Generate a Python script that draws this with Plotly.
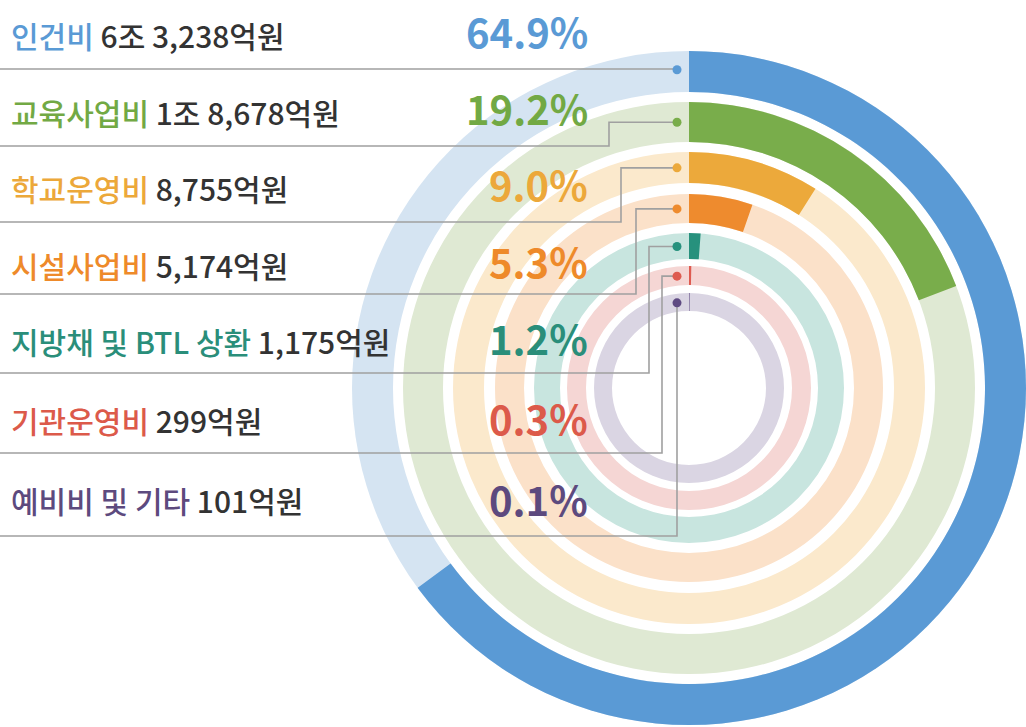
import math
import plotly.graph_objects as go

# ---------------- data ----------------
categories = ["인건비", "교육사업비", "학교운영비", "시설사업비",
              "지방채 및 BTL 상환", "기관운영비", "예비비 및 기타"]
amounts = ["6조 3,238억원", "1조 8,678억원", "8,755억원", "5,174억원",
           "1,175억원", "299억원", "101억원"]
shares = [64.9, 19.2, 9.0, 5.3, 1.2, 0.3, 0.1]

# ---------------- styles / layout ----------------
BAR_COLORS = ["#5a9ad5", "#79ad4b", "#eca93b", "#ee8b2e", "#27917d", "#de5b50", "#5e4a82"]
TRACK_COLORS = ["#d5e4f2", "#dfe9d3", "#fbe9cc", "#fbe1c9", "#c8e5df", "#f5d6d4", "#dad5e3"]
TEXT_COLORS = ["#5a9ad5", "#72a944", "#eca83a", "#ee8a2a", "#2a8e7a", "#dc5a4a", "#5d4a7e"]

W, H = 1026, 727
CX, CY = 689, 388          # ring centre in px (from top-left)
R_POLAR = 337              # radius of polar area in px
RING_INNER = [296, 246, 205, 165, 129, 103, 77]
RING_OUTER = [341, 286, 236, 194, 155, 122, 95]
LINE_Y = [69, 146, 222, 294, 373, 453, 536]
ELBOW_X = [677, 609, 621, 636, 649, 662, 677]
DOT_DX = 12
LABEL_Y = [35, 112, 188, 265, 341, 420, 500]
PCT_Y = [31, 108, 184, 261, 338, 418, 499]


def px(x):
    return x / W


def py(y):
    return 1 - y / H


fig = go.Figure()

# background tracks
for i in range(len(shares)):
    fig.add_trace(go.Barpolar(
        r=[RING_OUTER[i] - RING_INNER[i]], base=[RING_INNER[i]],
        theta=[180], width=[360],
        marker=dict(color=TRACK_COLORS[i], line=dict(width=0)),
        hoverinfo="skip", showlegend=False))

# value bars (percent -> degrees)
for i, s in enumerate(shares):
    sweep = s * 360 / 100
    fig.add_trace(go.Barpolar(
        r=[RING_OUTER[i] - RING_INNER[i]], base=[RING_INNER[i]],
        theta=[sweep / 2], width=[sweep],
        marker=dict(color=BAR_COLORS[i], line=dict(width=0)),
        name=categories[i], hovertemplate=f"{categories[i]}: {s}%<extra></extra>",
        showlegend=False))

shapes = []
annotations = []
for i in range(len(shares)):
    mid = (RING_INNER[i] + RING_OUTER[i]) / 2
    dot_x = CX - DOT_DX
    dot_y = CY - math.sqrt(mid ** 2 - DOT_DX ** 2)
    path = (f"M 0,{py(LINE_Y[i])} L {px(ELBOW_X[i])},{py(LINE_Y[i])} "
            f"L {px(ELBOW_X[i])},{py(dot_y)} L {px(dot_x)},{py(dot_y)}")
    shapes.append(dict(type="path", xref="paper", yref="paper", path=path,
                       line=dict(color="#a0a0a0", width=1.6)))
    rd = 4.5
    shapes.append(dict(type="circle", xref="paper", yref="paper",
                       x0=px(dot_x - rd), x1=px(dot_x + rd),
                       y0=py(dot_y + rd), y1=py(dot_y - rd),
                       fillcolor=BAR_COLORS[i], line=dict(width=0)))
    annotations.append(dict(
        x=px(9), y=py(LABEL_Y[i]), xref="paper", yref="paper",
        xanchor="left", yanchor="middle", showarrow=False,
        text=f"<span style='color:{TEXT_COLORS[i]}'>{categories[i]}</span> {amounts[i]}",
        font=dict(family="Noto Sans CJK KR", size=30, color="#333333", weight=500)))
    annotations.append(dict(
        x=px(590), y=py(PCT_Y[i]), xref="paper", yref="paper",
        xanchor="right", yanchor="middle", showarrow=False,
        text=f"<b>{shares[i]:.1f}%</b>",
        font=dict(family="Noto Sans CJK KR", size=40, color=TEXT_COLORS[i])))

fig.update_layout(
    width=W, height=H,
    margin=dict(l=0, r=0, t=0, b=0),
    paper_bgcolor="white", plot_bgcolor="white",
    polar=dict(
        domain=dict(x=[px(CX - R_POLAR), px(CX + R_POLAR)],
                    y=[py(CY + R_POLAR), py(CY - R_POLAR)]),
        bgcolor="rgba(0,0,0,0)",
        radialaxis=dict(visible=False, range=[0, R_POLAR]),
        angularaxis=dict(visible=False, rotation=90, direction="clockwise"),
    ),
    shapes=shapes,
    annotations=annotations,
    showlegend=False,
)

fig.write_html("out.html",
               config={"displayModeBar": False},
               post_script="document.body.style.margin='0';document.body.style.overflow='hidden';")
